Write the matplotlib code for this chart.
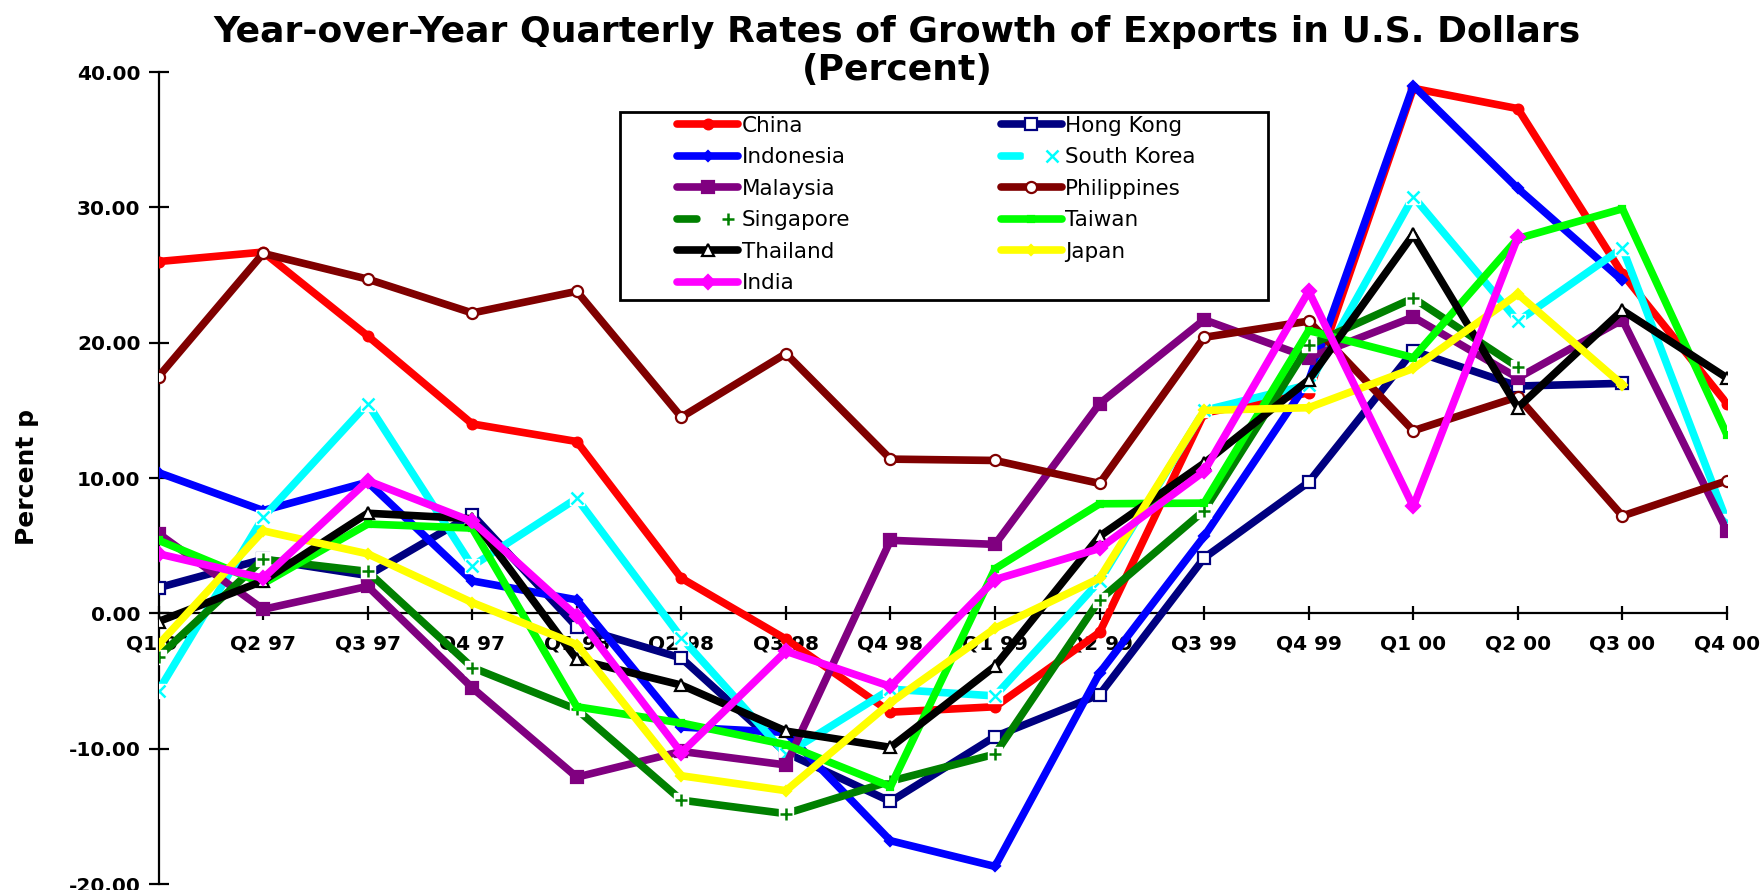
import numpy as np
import matplotlib
matplotlib.use("Agg")
import matplotlib.pyplot as plt  # noqa: E402
from matplotlib.legend_handler import HandlerTuple  # noqa: E402
from matplotlib.patches import Rectangle  # noqa: E402

nan = np.nan

quarters = ["Q1 97", "Q2 97", "Q3 97", "Q4 97", "Q1 98", "Q2 98", "Q3 98", "Q4 98",
            "Q1 99", "Q2 99", "Q3 99", "Q4 99", "Q1 00", "Q2 00", "Q3 00", "Q4 00"]

china = [26.0, 26.7, 20.5, 14.0, 12.7, 2.6, -1.9, -7.3, -6.9, -1.4, 14.8, 16.3, 38.8, 37.3, 25.1, 15.5]
hong_kong = [1.9, 4.0, 2.8, 7.3, -1.0, -3.3, -10.3, -13.9, -9.1, -6.0, 4.1, 9.7, 19.4, 16.8, 17.0, nan]
indonesia = [10.4, 7.6, 9.7, 2.4, 1.0, -8.4, -8.8, -16.8, -18.7, -4.4, 5.7, 17.2, 39.0, 31.4, 24.6, nan]
south_korea = [-5.7, 7.1, 15.5, 3.5, 8.5, -1.8, -10.4, -5.6, -6.1, 2.4, 15.0, 16.9, 30.8, 21.6, 27.0, 6.8]
malaysia = [5.9, 0.3, 2.0, -5.5, -12.1, -10.2, -11.2, 5.4, 5.1, 15.5, 21.7, 18.9, 21.9, 17.4, 21.7, 6.1]
philippines = [17.5, 26.6, 24.7, 22.2, 23.8, 14.5, 19.2, 11.4, 11.3, 9.6, 20.4, 21.6, 13.5, 16.0, 7.2, 9.8]
singapore = [-3.2, 4.0, 3.1, -4.0, -7.1, -13.8, -14.8, -12.4, -10.4, 1.0, 7.6, 19.8, 23.3, 18.2, nan, nan]
taiwan = [5.4, 2.2, 6.6, 6.3, -6.9, -8.1, -9.7, -12.8, 3.3, 8.1, 8.15, 20.9, 18.9, 27.7, 29.9, 13.2]
thailand = [-0.6, 2.4, 7.4, 7.0, -3.4, -5.3, -8.7, -9.9, -3.9, 5.7, 11.1, 17.25, 28.0, 15.2, 22.4, 17.4]
japan = [-2.3, 6.1, 4.4, 0.8, -2.3, -12.0, -13.1, -6.6, -1.1, 2.6, 15.0, 15.2, 18.1, 23.6, 16.9, nan]
india = [4.4, 2.6, 9.8, 6.8, -0.2, -10.3, -2.8, -5.4, 2.5, 4.8, 10.5, 23.8, 7.9, 27.8, nan, nan]

# name, values, colour, marker, marker size, face colour, white box behind marker
series = [
    ("China", china, "#FF0000", "o", 7, "#FF0000", False),
    ("Hong Kong", hong_kong, "#000080", "s", 9, "white", False),
    ("Indonesia", indonesia, "#0000FF", "D", 5, "#0000FF", False),
    ("South Korea", south_korea, "#00FFFF", "x", 9, "none", True),
    ("Malaysia", malaysia, "#800080", "s", 9, "#800080", False),
    ("Philippines", philippines, "#800000", "o", 8, "white", False),
    ("Singapore", singapore, "#008000", "+", 9, "none", True),
    ("Taiwan", taiwan, "#00FF00", "s", 4, "#00FF00", False),
    ("Thailand", thailand, "#000000", "^", 8, "white", False),
    ("Japan", japan, "#FFFF00", "D", 5, "#FFFF00", False),
    ("India", india, "#FF00FF", "D", 7, "#FF00FF", False),
]

plt.rcParams["font.family"] = ["DejaVu Sans"]

fig = plt.figure(figsize=(17.64, 8.90), dpi=100)
ax = fig.add_axes([0.0899, 0.0067, 0.8891, 0.9123])
ax.set_axisbelow(True)

ax.spines["top"].set_visible(False)
ax.spines["right"].set_visible(False)
ax.spines["bottom"].set_position(("data", 0))
for side in ("left", "bottom"):
    ax.spines[side].set_linewidth(1.6)
    ax.spines[side].set_zorder(0.5)

x = np.arange(len(quarters))
handles = {}
for name, vals, col, mk, ms, fc, box in series:
    y = np.array(vals, dtype=float)
    if box:
        ln, = ax.plot(x, y, "-", color=col, lw=5.5, solid_capstyle="round")
        bg, = ax.plot(x, y, ls="none", marker="s", ms=ms + 1, mfc="white", mec="white")
        mkh, = ax.plot(x, y, ls="none", marker=mk, ms=ms, mec=col, mew=1.8)
        handles[name] = (ln, bg, mkh)
    else:
        ln, = ax.plot(x, y, "-", color=col, lw=5.5, marker=mk, ms=ms,
                      mfc=fc, mec=col, mew=1.6, solid_capstyle="round")
        handles[name] = ln

ax.set_xlim(0, len(quarters) - 1)
ax.set_ylim(-20, 40)
ax.set_xticks(x)
ax.set_xticklabels(quarters)
ax.set_yticks(np.arange(-20, 41, 10))
ax.set_yticklabels([f"{v:.2f}" for v in np.arange(-20, 41, 10)])
ax.tick_params(axis="x", direction="inout", length=10, width=1.6, pad=10, labelsize=14.5)
ax.tick_params(axis="y", direction="inout", length=14, width=1.6, pad=6, labelsize=14.5)
for lbl in ax.get_xticklabels() + ax.get_yticklabels():
    lbl.set_fontweight("bold")

fig.text(0.0155, 0.464, "Percent p", rotation=90, ha="center", va="center",
         fontsize=18, fontweight="bold")
fig.text(0.5085, 0.943, "Year-over-Year Quarterly Rates of Growth of Exports in U.S. Dollars\n(Percent)",
         ha="center", va="center", fontsize=26, fontweight="bold", linespacing=1.15)

# legend reads row-wise in the reference: reorder for matplotlib's column fill
order = ["China", "Indonesia", "Malaysia", "Singapore", "Thailand", "India",
         "Hong Kong", "South Korea", "Philippines", "Taiwan", "Japan"]
leg = ax.legend([handles[n] for n in order], order, ncol=2, loc="upper left",
                bbox_to_anchor=(677 / 1764, 1 - 116 / 890),
                bbox_transform=fig.transFigure,
                fontsize=15.5, frameon=False,
                handlelength=2.85, handletextpad=0.15, labelspacing=0.53,
                borderpad=0, borderaxespad=0, columnspacing=7.0, numpoints=1,
                handler_map={tuple: HandlerTuple(ndivide=None)})
fig.add_artist(Rectangle((620 / 1764, 1 - 300 / 890), 648 / 1764, 188 / 890,
                         transform=fig.transFigure, fill=False, edgecolor="black",
                         lw=2.0, zorder=4))

fig.savefig("out.png", dpi=100)
